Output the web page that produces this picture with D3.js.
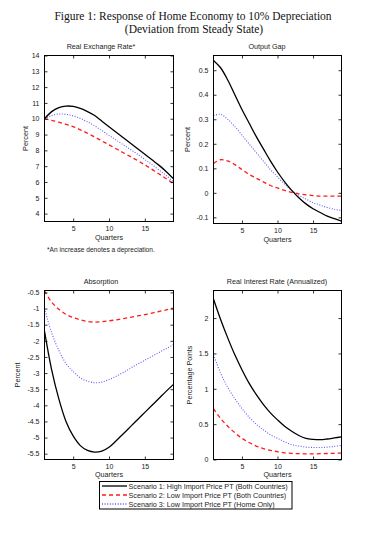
<!DOCTYPE html>
<html>
<head>
<meta charset="utf-8">
<script src="https://cdn.jsdelivr.net/npm/d3@7"></script>
<style>
  body { margin: 0; background: #fff; }
  text { font-family: "Liberation Sans", Arial, sans-serif; fill: #222; }
  .ttl { font-family: "Liberation Serif", "DejaVu Serif", serif; fill: #111; }
</style>
</head>
<body>
<script>
var W = 388, H = 533;

// quarters 1..19
var quarters = d3.range(1, 20);

// Real exchange rate
var rer_s1 = [10.0, 10.45, 10.7, 10.8, 10.78, 10.65, 10.45, 10.2, 9.85, 9.5, 9.15, 8.8, 8.45, 8.1, 7.75, 7.4, 7.05, 6.65, 6.2];
var rer_s2 = [10.0, 9.9, 9.78, 9.65, 9.5, 9.3, 9.08, 8.85, 8.6, 8.35, 8.1, 7.85, 7.6, 7.35, 7.08, 6.8, 6.5, 6.2, 5.9];
var rer_s3 = [10.0, 10.2, 10.3, 10.28, 10.18, 10.02, 9.8, 9.55, 9.25, 8.95, 8.65, 8.35, 8.05, 7.75, 7.42, 7.1, 6.75, 6.4, 6.0];

// Output gap
var gap_s1 = [0.54, 0.51, 0.46, 0.40, 0.34, 0.285, 0.23, 0.18, 0.13, 0.085, 0.045, 0.01, -0.02, -0.045, -0.065, -0.08, -0.095, -0.105, -0.115];
var gap_s2 = [0.12, 0.135, 0.13, 0.115, 0.095, 0.075, 0.06, 0.045, 0.03, 0.02, 0.01, 0.002, -0.004, -0.008, -0.011, -0.013, -0.013, -0.013, -0.013];
var gap_s3 = [0.315, 0.32, 0.30, 0.27, 0.235, 0.20, 0.165, 0.13, 0.095, 0.065, 0.035, 0.01, -0.01, -0.025, -0.04, -0.05, -0.06, -0.067, -0.072];

// Absorption
var abs_s1 = [-1.7, -2.9, -3.8, -4.5, -4.95, -5.25, -5.4, -5.45, -5.42, -5.3, -5.1, -4.88, -4.66, -4.44, -4.22, -4.0, -3.78, -3.56, -3.35];
var abs_s2 = [-0.45, -0.8, -1.02, -1.18, -1.28, -1.35, -1.4, -1.42, -1.41, -1.38, -1.35, -1.31, -1.27, -1.23, -1.19, -1.14, -1.09, -1.04, -0.99];
var abs_s3 = [-1.0, -1.75, -2.3, -2.7, -2.95, -3.15, -3.25, -3.3, -3.28, -3.2, -3.1, -2.98, -2.85, -2.72, -2.6, -2.48, -2.36, -2.24, -2.12];

// Real interest rate
var rir_s1 = [2.27, 1.98, 1.72, 1.48, 1.27, 1.08, 0.92, 0.78, 0.66, 0.56, 0.47, 0.4, 0.34, 0.3, 0.285, 0.28, 0.29, 0.305, 0.32];
var rir_s2 = [0.72, 0.58, 0.47, 0.38, 0.3, 0.24, 0.19, 0.155, 0.13, 0.11, 0.095, 0.087, 0.082, 0.08, 0.08, 0.082, 0.085, 0.088, 0.09];
var rir_s3 = [1.48, 1.22, 1.02, 0.86, 0.72, 0.6, 0.5, 0.42, 0.35, 0.3, 0.25, 0.21, 0.19, 0.175, 0.17, 0.17, 0.175, 0.185, 0.2];

var xTicks = [5, 10, 15];
var rerTicks = d3.range(4, 15, 1);
var gapTicks = [-0.1, 0, 0.1, 0.2, 0.3, 0.4, 0.5];
var absTicks = [-5.5, -5, -4.5, -4, -3.5, -3, -2.5, -2, -1.5, -1, -0.5];
var rirTicks = [0, 0.5, 1, 1.5, 2];

var legendLabels = [
  "Scenario 1: High Import Price PT (Both Countries)",
  "Scenario 2: Low Import Price PT (Both Countries)",
  "Scenario 3: Low Import Price PT (Home Only)"
];

var styles = [
  {color: "#000", dash: null, w: 1.3},
  {color: "#ff1a1a", dash: "4,3", w: 1.3},
  {color: "#5a5aff", dash: "1,1.6", w: 1.1}
];

var panels = [
  {title: "Real Exchange Rate*", ylab: "Percent", box: [44.5, 173.5, 55.5, 221.5], ydom: [3.5, 14], yticks: rerTicks,
   series: [rer_s1, rer_s2, rer_s3], ylx: 28, qy: 240, tx: 101},
  {title: "Output Gap", ylab: "Percent", box: [213.5, 341.5, 55.5, 223.5], ydom: [-0.125, 0.56], yticks: gapTicks,
   series: [gap_s1, gap_s2, gap_s3], ylx: 190, qy: 242, tx: 267},
  {title: "Absorption", ylab: "Percent", box: [44.5, 173.5, 290.5, 459.5], ydom: [-5.68, -0.44], yticks: absTicks,
   series: [abs_s1, abs_s2, abs_s3], ylx: 20, qy: 477, tx: 101},
  {title: "Real Interest Rate (Annualized)", ylab: "Percentage Points", box: [213.5, 341.5, 290.5, 459.5], ydom: [0, 2.39], yticks: rirTicks,
   series: [rir_s1, rir_s2, rir_s3], ylx: 192, qy: 477, tx: 277}
];

var svg = d3.select("body").append("svg")
  .attr("width", W).attr("height", H);

// figure title
svg.append("text").attr("class", "ttl")
  .attr("x", 193).attr("y", 19.5).attr("text-anchor", "middle")
  .style("font-size", "11.5px")
  .text("Figure 1: Response of Home Economy to 10% Depreciation");
svg.append("text").attr("class", "ttl")
  .attr("x", 194).attr("y", 32.5).attr("text-anchor", "middle")
  .style("font-size", "11.5px")
  .text("(Deviation from Steady State)");

panels.forEach(function(p) {
  var L = p.box[0], R = p.box[1], T = p.box[2], B = p.box[3];
  var x = d3.scaleLinear().domain([1, 19]).range([L, R]);
  var y = d3.scaleLinear().domain(p.ydom).range([B, T]);
  var g = svg.append("g");

  // lines
  var line = d3.line()
    .x(function(d, i) { return x(quarters[i]); })
    .y(function(d) { return y(d); })
    .curve(d3.curveCatmullRom);

  [2, 1, 0].forEach(function(k) {
    var st = styles[k];
    g.append("path")
      .datum(p.series[k])
      .attr("d", line)
      .attr("fill", "none")
      .attr("stroke", st.color)
      .attr("stroke-width", st.w)
      .attr("stroke-dasharray", st.dash);
  });

  // axes, ticks inward and mirrored like matlab
  var tk = 3;
  g.append("g").attr("transform", "translate(0," + B + ")")
    .call(d3.axisBottom(x).tickValues(xTicks).tickSizeInner(-tk).tickSizeOuter(0).tickPadding(5));
  g.append("g").attr("transform", "translate(0," + T + ")")
    .call(d3.axisTop(x).tickValues(xTicks).tickSizeInner(-tk).tickSizeOuter(0).tickFormat(""));
  g.append("g").attr("transform", "translate(" + L + ",0)")
    .call(d3.axisLeft(y).tickValues(p.yticks).tickSizeInner(-tk).tickSizeOuter(0).tickPadding(5)
      .tickFormat(function(d) { return String(+d.toFixed(2)); }));
  g.append("g").attr("transform", "translate(" + R + ",0)")
    .call(d3.axisRight(y).tickValues(p.yticks).tickSizeInner(-tk).tickSizeOuter(0).tickFormat(""));

  g.selectAll(".domain").remove();
  g.selectAll(".tick line").attr("stroke", "#000").attr("stroke-width", 0.8);
  g.selectAll(".tick text").style("font-size", "7px").style("font-family", "Liberation Sans, Arial, sans-serif").attr("fill", "#222");

  g.append("rect")
    .attr("x", L).attr("y", T).attr("width", R - L).attr("height", B - T)
    .attr("fill", "none").attr("stroke", "#000").attr("stroke-width", 1);

  g.append("text")
    .attr("x", p.tx).attr("y", T - 7)
    .attr("text-anchor", "middle").style("font-size", "7.2px")
    .text(p.title);

  g.append("text")
    .attr("x", (L + R) / 2).attr("y", p.qy)
    .attr("text-anchor", "middle").style("font-size", "7.2px")
    .text("Quarters");

  g.append("text")
    .attr("transform", "translate(" + p.ylx + "," + (T + B) / 2 + ") rotate(-90)")
    .attr("text-anchor", "middle").style("font-size", "7.2px")
    .text(p.ylab);
});

// footnote
svg.append("text")
  .attr("x", 47).attr("y", 252).style("font-size", "6.6px")
  .text("*An increase denotes a depreciation.");

// legend
var lg = svg.append("g");
lg.append("rect")
  .attr("x", 99.5).attr("y", 481.5).attr("width", 192.5).attr("height", 27.5)
  .attr("fill", "#fff").attr("stroke", "#000").attr("stroke-width", 1);
legendLabels.forEach(function(lab, i) {
  var yy = 486 + i * 9;
  var st = styles[i];
  lg.append("line")
    .attr("x1", 102).attr("x2", 127).attr("y1", yy).attr("y2", yy)
    .attr("stroke", i === 2 ? "#0000ff" : st.color)
    .attr("stroke-width", st.w)
    .attr("stroke-dasharray", st.dash);
  lg.append("text")
    .attr("x", 128.5).attr("y", yy + 2.5).style("font-size", "7.2px")
    .text(lab);
});
</script>
</body>
</html>
